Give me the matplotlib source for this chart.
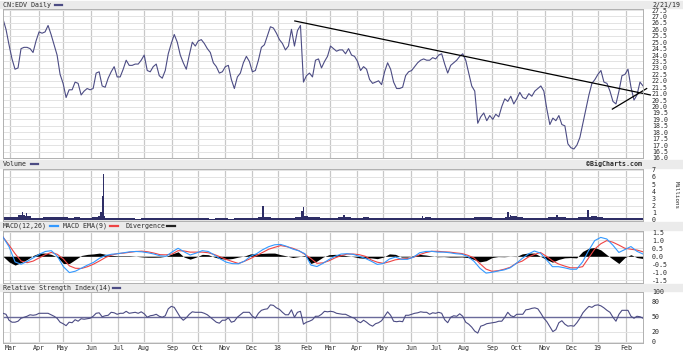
import numpy as np
import matplotlib
matplotlib.use("Agg")
import matplotlib.pyplot as plt
from matplotlib.patches import Rectangle
from matplotlib.lines import Line2D


# ==============================
# DATA
# ==============================
START = "2017-02-21"
END = "2019-02-21"

# closing price, sampled evenly over the period
price = [
    26.8, 26.0, 24.8, 23.7, 22.9, 23.0, 24.5, 24.6, 24.6, 24.5, 24.2, 25.1, 25.8, 25.7, 25.8, 26.3,
    25.6, 24.8, 24.0, 22.5, 21.8, 20.7, 21.3, 21.3, 21.9, 21.8, 20.9, 21.2, 21.4, 21.3, 21.4, 22.6,
    22.7, 21.6, 21.5, 22.2, 22.7, 23.1, 22.3, 22.3, 22.9, 23.6, 23.2, 23.2, 23.3, 23.3, 23.6, 24.0,
    22.8, 22.7, 23.1, 23.3, 22.4, 22.2, 22.8, 24.1, 24.9, 25.6, 25.0, 24.0, 23.4, 22.9, 24.0, 25.0,
    24.7, 25.1, 25.2, 24.9, 24.5, 24.2, 23.4, 23.1, 22.6, 22.7, 23.1, 23.2, 22.1, 21.4, 22.3, 22.6,
    23.4, 23.9, 23.5, 22.7, 22.8, 23.6, 24.6, 24.8, 25.5, 26.2, 26.1, 25.7, 25.2, 24.9, 24.4, 24.7,
    26.0, 24.7, 25.9, 26.3, 21.9, 22.4, 22.6, 22.3, 23.6, 23.7, 23.0, 23.5, 23.9, 24.7, 24.5, 24.3,
    24.4, 24.4, 24.1, 24.5, 24.0, 23.9, 23.5, 22.8, 23.1, 22.9, 22.1, 21.8, 21.9, 22.0, 21.7, 22.7,
    23.4, 22.9, 21.9, 21.4, 21.4, 21.5, 22.4, 22.7, 22.8, 23.1, 23.4, 23.6, 23.7, 23.6, 23.6, 23.8,
    23.7, 24.0, 24.1, 23.3, 22.6, 23.2, 23.4, 23.6, 23.9, 24.1, 23.6, 22.6, 21.6, 21.2, 18.7, 19.2,
    19.5, 18.9, 19.3, 19.0, 19.4, 19.2, 20.0, 20.6, 20.4, 20.8, 20.2, 20.6, 21.1, 20.7, 20.6, 21.0,
    20.8, 21.2, 21.4, 21.6, 21.2, 19.8, 18.6, 19.1, 18.9, 19.3, 18.6, 18.5, 17.1, 16.8, 16.7, 17.0,
    17.6, 18.7, 19.8, 20.9, 21.8, 22.1, 22.5, 22.8, 21.9, 21.8, 21.2, 20.4, 20.2, 21.2, 22.4, 22.5,
    22.9, 21.5, 20.5, 20.9, 21.9, 21.6,
]

# RSI(14), same sampling as price
rsi = [
    57, 55, 43, 39, 39, 41, 47, 49, 51, 54, 53, 54, 57, 57, 57, 57,
    54, 51, 47, 39, 36, 32, 39, 38, 44, 41, 46, 45, 46, 47, 51, 57,
    58, 50, 52, 53, 59, 58, 55, 57, 57, 61, 57, 58, 59, 57, 60, 56,
    49, 52, 53, 55, 51, 49, 52, 66, 71, 69, 59, 49, 43, 48, 55, 60,
    59, 59, 59, 57, 54, 49, 44, 39, 37, 43, 43, 48, 39, 41, 49, 54,
    59, 59, 59, 51, 47, 57, 63, 65, 66, 74, 73, 68, 65, 59, 54, 54,
    64, 49, 59, 61, 35, 39, 41, 44, 51, 51, 55, 61, 60, 61, 60, 57,
    56, 55, 55, 52, 49, 47, 41, 38, 43, 39, 34, 31, 36, 38, 42, 51,
    60, 53, 41, 40, 41, 40, 53, 53, 55, 57, 58, 60, 59, 59, 55, 58,
    57, 59, 57, 44, 38, 49, 52, 51, 56, 51, 39, 35, 29, 21, 17, 31,
    33, 36, 37, 38, 39, 41, 41, 49, 59, 52, 50, 55, 55, 55, 64, 65,
    67, 68, 66, 57, 47, 40, 30, 20, 24, 38, 42, 35, 31, 32, 31, 38,
    47, 58, 65, 71, 69, 73, 74, 72, 68, 63, 59, 49, 41, 55, 63, 63,
    63, 51, 47, 51, 50, 47,
]

# MACD(12,26), EMA(9) and divergence, sampled weekly-ish
macd = [
    1.2, 0.6, -0.35, -0.5, -0.32, -0.1, 0.12, 0.3, 0.35, 0.0, -0.65, -1.02, -0.93, -0.74, -0.55, -0.38,
    -0.12, 0.05, 0.13, 0.16, 0.22, 0.28, 0.3, 0.28, 0.22, 0.14, 0.03, 0.0, 0.27, 0.5, 0.28, 0.08,
    0.2, 0.35, 0.3, 0.08, -0.17, -0.37, -0.46, -0.47, -0.3, 0.0, 0.16, 0.41, 0.6, 0.72, 0.74, 0.62,
    0.45, 0.34, 0.16, -0.55, -0.64, -0.44, -0.2, 0.0, 0.14, 0.16, 0.12, 0.0, -0.13, -0.31, -0.51, -0.45,
    -0.17, -0.05, -0.19, -0.19, -0.05, 0.22, 0.3, 0.31, 0.26, 0.26, 0.22, 0.16, 0.13, -0.02, -0.31, -0.75,
    -1.05, -1.0, -0.92, -0.85, -0.72, -0.45, -0.13, 0.14, 0.33, 0.2, -0.21, -0.65, -0.65, -0.72, -0.81, -0.81,
    -0.35, 0.36, 0.98, 1.18, 1.08, 0.7, 0.24, 0.42, 0.61, 0.31, 0.14,
]
macd_ema = [
    1.2, 0.7, 0.16, -0.3, -0.4, -0.3, -0.1, 0.1, 0.24, 0.12, -0.17, -0.6, -0.75, -0.76, -0.65, -0.49,
    -0.29, -0.07, 0.08, 0.17, 0.2, 0.25, 0.3, 0.32, 0.28, 0.2, 0.1, 0.09, 0.14, 0.35, 0.33, 0.26,
    0.26, 0.26, 0.22, 0.11, -0.04, -0.2, -0.33, -0.45, -0.31, -0.14, 0.05, 0.24, 0.44, 0.56, 0.67, 0.6,
    0.5, 0.35, 0.12, -0.14, -0.44, -0.41, -0.28, -0.1, 0.04, 0.14, 0.14, 0.1, 0.0, -0.23, -0.37, -0.44,
    -0.34, -0.22, -0.17, -0.14, -0.06, 0.1, 0.23, 0.31, 0.31, 0.28, 0.26, 0.21, 0.17, 0.06, -0.1, -0.46,
    -0.8, -0.94, -0.9, -0.81, -0.69, -0.44, -0.3, -0.05, 0.11, 0.24, 0.0, -0.28, -0.48, -0.61, -0.72, -0.72,
    -0.65, -0.1, 0.45, 0.78, 0.98, 0.88, 0.7, 0.5, 0.44, 0.39, 0.28,
]
divergence = [
    0.0, -0.35, -0.55, -0.4, -0.2, 0.05, 0.2, 0.2, 0.12, -0.05, -0.45, -0.45, -0.2, 0.05, 0.12, 0.15,
    0.2, 0.12, 0.06, 0.03, 0.03, 0.03, 0.0, -0.04, -0.06, -0.06, -0.05, 0.0, 0.15, 0.28, -0.05, -0.18,
    -0.05, 0.12, 0.1, -0.05, -0.15, -0.18, -0.14, -0.05, 0.02, 0.15, 0.15, 0.18, 0.2, 0.2, 0.1, 0.02,
    -0.08, -0.02, 0.05, -0.45, -0.3, -0.05, 0.1, 0.12, 0.1, 0.03, -0.02, -0.1, -0.13, -0.1, -0.15, -0.05,
    0.15, 0.12, -0.05, -0.05, 0.05, 0.12, 0.08, 0.02, -0.03, -0.02, -0.05, -0.05, -0.04, -0.08, -0.2, -0.35,
    -0.28, -0.08, -0.02, -0.03, 0.0, -0.02, 0.15, 0.2, 0.2, 0.0, -0.2, -0.37, -0.2, -0.1, -0.08, -0.1,
    0.3, 0.5, 0.55, 0.4, 0.1, -0.18, -0.45, -0.08, 0.1, -0.08, -0.14,
]

# volume (millions): weekly level plus the single-day spikes
volume_weekly = [
    0.35, 0.4, 0.35, 0.7, 0.6, 0.3, 0.3, 0.35, 0.4, 0.35, 0.4, 0.3, 0.35, 0.3, 0.3, 0.35,
    0.5, 0.25, 0.2, 0.2, 0.2, 0.2, 0.15, 0.2, 0.2, 0.25, 0.2, 0.25, 0.3, 0.2, 0.2, 0.25,
    0.2, 0.2, 0.15, 0.2, 0.2, 0.15, 0.2, 0.2, 0.25, 0.3, 0.4, 0.35, 0.25, 0.3, 0.25, 0.3,
    0.35, 0.6, 0.45, 0.35, 0.3, 0.3, 0.3, 0.35, 0.4, 0.3, 0.3, 0.35, 0.3, 0.3, 0.3, 0.25,
    0.25, 0.3, 0.25, 0.25, 0.3, 0.35, 0.25, 0.25, 0.2, 0.25, 0.3, 0.25, 0.3, 0.35, 0.45, 0.35,
    0.3, 0.3, 0.35, 0.55, 0.4, 0.3, 0.3, 0.25, 0.3, 0.35, 0.4, 0.4, 0.3, 0.3, 0.35, 0.4,
    0.5, 0.35, 0.3, 0.3, 0.25, 0.3, 0.25, 0.3, 0.3,
]
spike_dates = [
    "2017-03-15", "2017-03-20", "2017-06-13", "2017-06-14", "2017-06-15", "2017-12-14",
    "2018-01-29", "2018-01-30", "2018-03-16", "2018-06-14", "2018-09-20", "2018-09-24",
    "2018-11-15", "2018-12-20",
]
spike_volume = [1.1, 1.0, 1.1, 3.4, 6.4, 2.0, 1.3, 1.8, 0.7, 0.6, 1.1, 0.7, 0.7, 1.4]

# hand-drawn trend lines (date, price)
resist_dates = ["2018-01-19", "2019-03-01"]
resist_vals = [26.65, 20.9]
support_dates = ["2019-01-17", "2019-02-26"]
support_vals = [19.8, 21.4]

month_starts = [
    "2017-03-01", "2017-04-03", "2017-05-01", "2017-06-01", "2017-07-03", "2017-08-01",
    "2017-09-01", "2017-10-02", "2017-11-01", "2017-12-01", "2018-01-01", "2018-02-01",
    "2018-03-01", "2018-04-02", "2018-05-01", "2018-06-01", "2018-07-02", "2018-08-01",
    "2018-09-03", "2018-10-01", "2018-11-01", "2018-12-03", "2019-01-01", "2019-02-01",
]
month_labels = [
    "Mar", "Apr", "May", "Jun", "Jul", "Aug", "Sep", "Oct", "Nov", "Dec", "18", "Feb",
    "Mar", "Apr", "May", "Jun", "Jul", "Aug", "Sep", "Oct", "Nov", "Dec", "19", "Feb",
]


# ==============================
# HELPERS
# ==============================
def bday(d):
    return int(np.busday_count(START, d))


N_DAYS = bday("2019-02-22")
XMAX = N_DAYS - 1

FONT = "DejaVu Sans Mono"
FS = 4.8
TXT = "#2a2a2a"
GRID_V = "#c8c8c8"
GRID_H = "#e3e3e3"
BAND = "#ebebeb"
NAVY = "#4c4c84"

W, H = 683, 351
fig = plt.figure(figsize=(W / 100, H / 100), dpi=100)
fig.patch.set_facecolor("white")


def fx(px):
    return px / W


def fy(py):
    return 1 - py / H


def make_ax(top, bottom):
    ax = fig.add_axes([fx(3), fy(bottom), fx(640), (bottom - top) / H])
    ax.set_xlim(0, XMAX)
    ax.set_xticks([bday(d) for d in month_starts])
    ax.tick_params(axis="x", length=0, labelbottom=False)
    ax.grid(axis="x", color=GRID_V, lw=0.9)
    ax.yaxis.tick_right()
    ax.tick_params(axis="y", length=0, pad=6.3, labelsize=FS, labelcolor=TXT)
    for s in ax.spines.values():
        s.set_color("#b0b0b0")
        s.set_linewidth(0.7)
    ax.set_axisbelow(True)
    return ax


def style_labels(ax):
    for lab in ax.get_yticklabels() + ax.get_xticklabels():
        lab.set_family(FONT)


def band(top, bottom):
    fig.add_artist(Rectangle((0, fy(bottom)), 1, (bottom - top) / H,
                             transform=fig.transFigure, color=BAND, zorder=0))


def header_text(px, py, s, ha="left", weight="normal"):
    fig.text(fx(px), fy(py), s, fontsize=FS, family=FONT, color=TXT,
             ha=ha, va="center", weight=weight)


def swatch(px0, px1, py, color):
    fig.add_artist(Line2D([fx(px0), fx(px1)], [fy(py), fy(py)],
                          transform=fig.transFigure, color=color, lw=1.6))


# ==============================
# HEADER BANDS
# ==============================
band(1, 8)
band(160, 168)
band(222, 230)
band(284, 291)

header_text(3, 4.5, "CN:EDV Daily")
swatch(55, 62, 4.5, NAVY)
header_text(680, 4.5, "2/21/19", ha="right")

header_text(3, 164, "Volume")
swatch(31, 38, 164, NAVY)
header_text(642, 164, "\u00a9BigCharts.com", ha="right", weight="bold")

header_text(3, 226, "MACD(12,26)")
swatch(50, 58, 226, "#3399ff")
header_text(63, 226, "MACD EMA(9)")
swatch(110, 118, 226, "#ee4444")
header_text(125, 226, "Divergence")
swatch(167, 175, 226, "#222222")

header_text(3, 288, "Relative Strength Index(14)")
swatch(113, 120, 288, NAVY)


# ==============================
# PRICE PANEL
# ==============================
ax_p = make_ax(9, 158)
x_p = np.linspace(0, XMAX, len(price))
ax_p.plot(x_p, price, color=NAVY, lw=0.8)
ax_p.plot([bday(d) for d in resist_dates], resist_vals, color="black", lw=0.9, clip_on=False)
ax_p.plot([bday(d) for d in support_dates], support_vals, color="black", lw=0.9, clip_on=False)
ax_p.set_ylim(16.0, 27.58)
p_ticks = np.arange(16.0, 27.51, 0.5)
ax_p.set_yticks(p_ticks)
ax_p.set_yticklabels([f"{t:.1f}" for t in p_ticks])
ax_p.grid(axis="y", color=GRID_H, lw=0.7)
style_labels(ax_p)


# ==============================
# VOLUME PANEL
# ==============================
ax_v = make_ax(169, 221)
x_w = np.linspace(0, XMAX, len(volume_weekly))
ax_v.bar(x_w, volume_weekly, width=XMAX / (len(volume_weekly) - 1), color="#2e2e66", lw=0)
ax_v.bar([bday(d) for d in spike_dates], spike_volume, width=1.2, color="#2e2e66", lw=0)
ax_v.set_ylim(-0.15, 7.1)
ax_v.set_yticks(range(0, 8))
ax_v.grid(axis="y", color=GRID_H, lw=0.7)
style_labels(ax_v)
fig.text(fx(676), fy(195), "Millions", rotation=270, fontsize=FS - 0.6, family=FONT,
         color=TXT, ha="center", va="center")


# ==============================
# MACD PANEL
# ==============================
ax_m = make_ax(231, 283)
x_m = np.linspace(0, XMAX, len(macd))
ax_m.fill_between(x_m, 0, divergence, color="black", lw=0, zorder=2)
ax_m.plot(x_m, macd_ema, color="#ee4444", lw=0.8, zorder=3)
ax_m.plot(x_m, macd, color="#3399ff", lw=0.8, zorder=4)
ax_m.set_ylim(-1.67, 1.58)
m_ticks = [1.5, 1.0, 0.5, 0.0, -0.5, -1.0, -1.5]
ax_m.set_yticks(m_ticks)
ax_m.set_yticklabels([f"{t:.1f}" for t in m_ticks])
ax_m.grid(axis="y", color=GRID_H, lw=0.7)
style_labels(ax_m)


# ==============================
# RSI PANEL
# ==============================
ax_r = make_ax(292, 343)
x_r = np.linspace(0, XMAX, len(rsi))
ax_r.plot(x_r, rsi, color=NAVY, lw=0.8, zorder=3)
ax_r.axhline(50, color="#6a6a9a", lw=1.0, zorder=2)
ax_r.set_ylim(-3, 100)
ax_r.set_yticks([0, 20, 50, 80, 100])
ax_r.grid(axis="y", color=GRID_H, lw=0.7)
ax_r.tick_params(axis="x", labelbottom=True, pad=1.2, labelsize=FS, labelcolor=TXT)
ax_r.set_xticklabels(month_labels)
style_labels(ax_r)

fig.savefig("out.png", dpi=100, facecolor="white")
